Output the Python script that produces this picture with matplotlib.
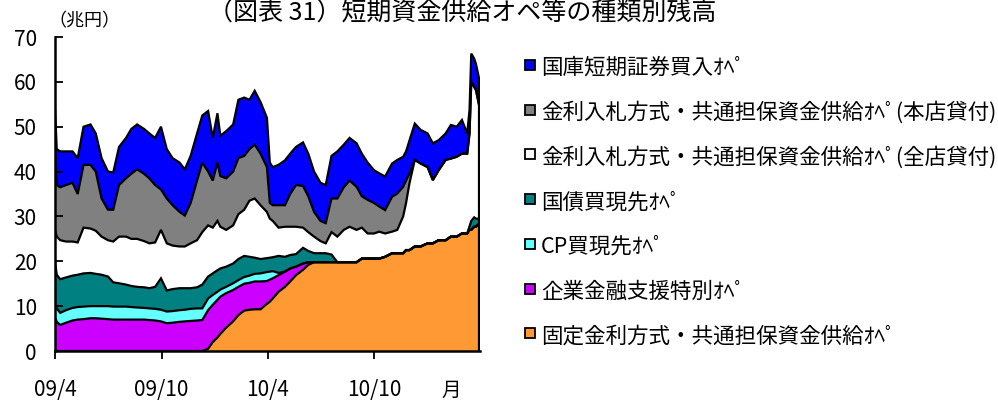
import matplotlib
matplotlib.use("Agg")
import matplotlib.pyplot as plt
import numpy as np
import pandas as pd
from datetime import datetime
from matplotlib.patches import Rectangle

plt.rcParams["font.family"] = ["Noto Sans CJK JP", "DejaVu Sans"]

dates = [
    "2009-04-01", "2009-04-04", "2009-04-10", "2009-04-20", "2009-05-01",
    "2009-05-10", "2009-05-20", "2009-06-01", "2009-06-10", "2009-06-20",
    "2009-07-01", "2009-07-10", "2009-07-20", "2009-08-01", "2009-08-10",
    "2009-08-20", "2009-09-01", "2009-09-10", "2009-09-20", "2009-09-30",
    "2009-10-10", "2009-10-20", "2009-11-01", "2009-11-10", "2009-11-20",
    "2009-12-01", "2009-12-10", "2009-12-20", "2009-12-28", "2010-01-05",
    "2010-01-10", "2010-01-20", "2010-02-01", "2010-02-10", "2010-02-20",
    "2010-03-01", "2010-03-10", "2010-03-20", "2010-03-31", "2010-04-05",
    "2010-04-10", "2010-04-20", "2010-05-01", "2010-05-10", "2010-05-20",
    "2010-06-01", "2010-06-10", "2010-06-20", "2010-07-01", "2010-07-10",
    "2010-07-20", "2010-07-30", "2010-08-10", "2010-08-20", "2010-09-01",
    "2010-09-10", "2010-09-20", "2010-10-01", "2010-10-10", "2010-10-20",
    "2010-11-01", "2010-11-10", "2010-11-20", "2010-11-25", "2010-12-01",
    "2010-12-10", "2010-12-20", "2011-01-01", "2011-01-10", "2011-01-20",
    "2011-02-01", "2011-02-10", "2011-02-20", "2011-03-01", "2011-03-10",
    "2011-03-14", "2011-03-17", "2011-03-22", "2011-03-25", "2011-03-31",
]

# balances, trillion yen (bottom of the stack first)
fixed_rate = [
    0, 0, 0, 0, 0, 0, 0, 0, 0, 0,
    0, 0, 0, 0, 0, 0, 0, 0, 0, 0,
    0, 0, 0, 0, 0, 0, 0, 0.5, 2.0, 3.0,
    3.8, 5.2, 6.6, 8.0, 9.0, 9.2, 9.3, 9.3, 10.5, 11.0,
    11.7, 13.2, 14.3, 15.5, 16.9, 18.1, 19.2, 19.8, 19.8, 19.8,
    19.8, 19.8, 19.8, 19.8, 19.8, 20.6, 20.6, 20.6, 20.6, 21.0,
    21.8, 21.8, 21.8, 22.5, 22.5, 23.3, 23.3, 24.0, 24.0, 24.7,
    24.7, 25.5, 25.5, 26.2, 26.2, 27.0, 27.0, 27.7, 27.7, 28.5,
]
corp_finance = [
    7.5, 6.5, 5.8, 6.3, 6.8, 7.0, 7.1, 7.3, 7.3, 7.2,
    7.1, 7.0, 7.0, 7.0, 7.0, 7.0, 7.0, 6.9, 6.8, 6.6,
    6.2, 6.3, 6.5, 6.6, 6.7, 6.8, 6.9, 8.6, 8.3, 8.4,
    8.3, 7.7, 7.0, 6.3, 6.0, 6.0, 6.2, 6.2, 5.1, 4.9,
    4.5, 3.7, 3.4, 2.9, 1.9, 1.4, 0.6, 0, 0, 0,
    0, 0, 0, 0, 0, 0, 0, 0, 0, 0,
    0, 0, 0, 0, 0, 0, 0, 0, 0, 0,
    0, 0, 0, 0, 0, 0, 0, 0, 0, 0,
]
cp_repo = [
    3.0, 3.0, 2.7, 2.8, 2.8, 2.8, 2.8, 2.7, 2.7, 2.8,
    2.9, 2.9, 2.9, 2.9, 2.8, 2.7, 2.6, 2.6, 2.6, 2.6,
    2.6, 2.6, 2.6, 2.6, 2.7, 2.7, 2.6, 2.6, 2.2, 1.8,
    1.6, 1.4, 1.5, 1.5, 1.5, 1.6, 1.7, 1.8, 2.0, 1.8,
    1.6, 0.5, 0, 0, 0, 0, 0, 0, 0, 0,
    0, 0, 0, 0, 0, 0, 0, 0, 0, 0,
    0, 0, 0, 0, 0, 0, 0, 0, 0, 0,
    0, 0, 0, 0, 0, 0, 0, 0, 0, 0,
]
jgb_repo = [
    9.5, 7.5, 7.5, 7.3, 7.2, 7.2, 7.4, 7.4, 7.2, 7.0,
    6.6, 5.4, 5.2, 4.9, 4.7, 4.6, 4.6, 4.5, 4.9, 7.0,
    4.7, 4.9, 4.9, 4.8, 4.6, 4.7, 5.3, 4.9, 4.8, 4.8,
    4.7, 4.5, 4.4, 4.7, 4.7, 4.2, 3.6, 3.2, 3.1, 3.1,
    3.1, 3.8, 3.3, 3.0, 2.8, 3.5, 2.5, 2.0, 2.0, 2.0,
    1.7, 0, 0, 0, 0, 0, 0, 0, 0, 0,
    0, 0, 0, 0, 0, 0, 0, 0, 0, 0,
    0, 0, 0, 0, 0, 0.8, 2.0, 2.1, 1.8, 1.0,
]
all_offices = [
    7.0, 8.5, 8.7, 8.0, 7.6, 7.2, 10.2, 9.9, 9.6, 8.5,
    8.1, 9.1, 10.4, 10.7, 10.5, 10.7, 10.3, 10.0, 9.9, 10.8,
    10.5, 9.7, 9.3, 9.3, 10.0, 10.5, 11.7, 11.4, 10.2, 11.0,
    9.3, 8.2, 8.5, 10.0, 10.3, 12.5, 13.2, 12.0, 10.3, 8.7,
    8.1, 6.3, 6.7, 6.3, 6.1, 4.5, 4.2, 3.7, 2.7, 2.2,
    5.0, 5.7, 7.2, 7.9, 7.2, 6.9, 5.6, 5.6, 6.0, 5.2,
    4.8, 5.2, 8.2, 10.5, 15.0, 19.3, 18.5, 17.0, 14.1, 15.6,
    17.9, 17.4, 17.8, 17.8, 17.8, 20.7, 31.0, 29.1, 28.7, 25.0,
]
head_office = [
    16.0, 11.5, 11.8, 12.6, 13.1, 10.8, 14.0, 14.2, 13.2, 8.5,
    6.8, 7.1, 11.5, 13.0, 14.5, 15.5, 15.0, 14.5, 12.8, 9.0,
    10.0, 9.0, 7.7, 6.9, 9.0, 13.3, 15.5, 12.0, 10.5, 13.0,
    11.3, 11.5, 12.0, 12.5, 12.0, 11.5, 12.0, 11.5, 10.0, 3.5,
    3.5, 5.0, 4.8, 7.3, 9.3, 9.3, 8.0, 5.5, 4.5, 4.5,
    7.5, 8.5, 9.5, 10.3, 9.6, 7.0, 7.5, 6.8, 5.6, 5.2,
    7.8, 8.1, 6.6, 5.0, 2.1, 0, 0, 0, 0, 0,
    0, 0, 0, 0, 0, 0, 0, 0, 0, 0,
]
tbill = [
    11.0, 8.0, 8.0, 7.5, 7.0, 8.0, 8.5, 9.0, 8.5, 9.0,
    8.5, 8.3, 8.5, 9.0, 10.0, 10.0, 10.0, 10.0, 10.5, 14.0,
    11.0, 10.5, 11.0, 10.3, 10.5, 10.5, 10.5, 13.5, 9.5, 11.0,
    9.0, 10.5, 10.5, 13.0, 13.0, 11.0, 12.0, 11.5, 11.0, 9.0,
    8.5, 9.0, 10.0, 9.0, 8.5, 9.7, 9.5, 9.0, 8.5, 8.5,
    9.5, 10.5, 9.5, 9.5, 9.7, 9.5, 8.3, 7.3, 7.4, 7.5,
    7.4, 7.5, 6.7, 6.5, 7.4, 8.1, 7.5, 7.5, 8.2, 6.7,
    5.9, 7.5, 6.7, 7.5, 4.5, 5.2, 6.3, 6.3, 5.8, 5.9,
]

series_labels = [
    "固定金利方式・共通担保資金供給ｵﾍﾟ",
    "企業金融支援特別ｵﾍﾟ",
    "CP買現先ｵﾍﾟ",
    "国債買現先ｵﾍﾟ",
    "金利入札方式・共通担保資金供給ｵﾍﾟ(全店貸付)",
    "金利入札方式・共通担保資金供給ｵﾍﾟ(本店貸付)",
    "国庫短期証券買入ｵﾍﾟ",
]
series_colors = ["#FF9933", "#CC00FF", "#66FFFF", "#008080",
                 "#FFFFFF", "#808080", "#0000FF"]

tick_dates = ["2009-04-01", "2009-10-01", "2010-04-01", "2010-10-01"]
tick_labels = ["09/4", "09/10", "10/4", "10/10"]

x = pd.to_datetime(dates)
stack = [fixed_rate, corp_finance, cp_repo, jgb_repo,
         all_offices, head_office, tbill]

fig = plt.figure(figsize=(9.98, 4.0), dpi=100)
ax = fig.add_axes([55 / 998, 49 / 400, 425 / 998, 314 / 400])

ax.stackplot(x, *stack, colors=series_colors, linewidth=0)

# black outline on the top of every layer, like the Excel original
tops = np.cumsum(np.array(stack, dtype=float), axis=0)
for top in tops:
    ax.plot(x, top, color="black", linewidth=1.6, solid_joinstyle="miter")
ax.vlines(x[-1], 0, tops[-1][-1], color="black", linewidth=1.6)

ax.set_xlim(datetime(2009, 4, 1), datetime(2011, 4, 1))
ax.set_ylim(0, 70)
ax.set_yticks(range(0, 71, 10))
ax.set_xticks(pd.to_datetime(tick_dates))
ax.set_xticklabels(tick_labels)
ax.tick_params(axis="x", direction="out", length=6, width=1.3,
               pad=14, labelsize=15)
ax.tick_params(axis="y", direction="in", length=6, width=1.3,
               pad=13, labelsize=15)
for side in ["top", "right"]:
    ax.spines[side].set_visible(False)
for side in ["left", "bottom"]:
    ax.spines[side].set_linewidth(1.8)
    ax.spines[side].set_zorder(5)

# title, unit and month label
fig.text(462 / 998, 1 - 13 / 400, "（図表 31）短期資金供給オペ等の種類別残高",
         ha="center", va="center", fontsize=18)
fig.text(48 / 998, 1 - 21 / 400, "（兆円）", ha="left", va="center",
         fontsize=13)
fig.text(451 / 998, 1 - 390 / 400, "月", ha="center", va="center",
         fontsize=14)

# legend drawn by hand (top row = top of the stack)
for i, (lab, col) in enumerate(zip(series_labels[::-1], series_colors[::-1])):
    yc = 68 + i * 44.7
    fig.add_artist(Rectangle(
        (525 / 998, 1 - (yc + 2) / 400), 10 / 998, 10 / 400,
        transform=fig.transFigure, facecolor=col, edgecolor="black",
        linewidth=1.3,
    ))
    fig.text(541 / 998, 1 - yc / 400, lab, ha="left", va="center",
             fontsize=15.5)

fig.savefig("out.png", dpi=100)
